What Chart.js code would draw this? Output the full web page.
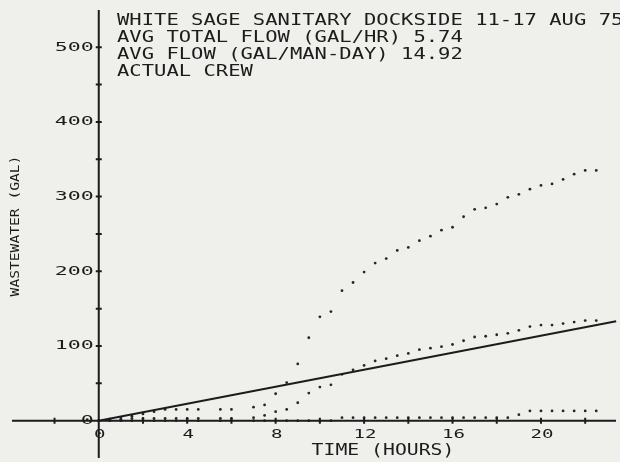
<!DOCTYPE html>
<html>
<head>
<meta charset="utf-8">
<script src="https://cdn.jsdelivr.net/npm/chart.js@4.4.1/dist/chart.umd.min.js"></script>
<style>
  html, body { margin: 0; padding: 0; background: #efefec; }
</style>
</head>
<body>
<canvas id="chart" width="620" height="462"></canvas>
<script>
// sample times, every half hour
const hours = [
  0, 0.5, 1, 1.5, 2, 2.5, 3, 3.5, 4, 4.5, 5, 5.5, 6, 6.5, 7, 7.5,
  8, 8.5, 9, 9.5, 10, 10.5, 11, 11.5, 12, 12.5, 13, 13.5, 14, 14.5, 15, 15.5,
  16, 16.5, 17, 17.5, 18, 18.5, 19, 19.5, 20, 20.5, 21, 21.5, 22, 22.5
]

// cumulative wastewater (gal)
const upperGal = [
  0, 2, 4, 6, 9, 12, 15, 15, 15, 15, null, 15, 15, null, 18, 21,
  36, 51, 76, 111, 139, 146, 174, 185, 199, 211, 217, 228, 232, 241, 247, 255,
  259, 273, 283, 285, 290, 299, 303, 310, 315, 317, 323, 330, 335, 335
]
const middleGal = [
  0, 1, 2, 3, 3, 3, 3, 3, 3, 3, null, 3, 3, null, 4, 7,
  12, 15, 24, 37, 45, 48, 62, 68, 74, 80, 83, 87, 90, 95, 97, 99,
  102, 107, 112, 113, 115, 117, 121, 126, 128, 128, 130, 132, 134, 134
]
const lowerGal = [
  0, 0, 0, 0, 0, 0, 0, 0, 0, 0, null, 0, 0, null, 0, 0,
  0, 0, 0, 0, 0, 0, 4, 4, 4, 4, 4, 4, 4, 4, 4, 4,
  4, 4, 4, 4, 4, 4, 8, 13, 13, 13, 13, 13, 13, 13
]

// average flow line (5.74 gal/hr)
const avgHours = [0, 23.4]
const avgGal = [0, 133]

const xTickValues = [-2, 0, 2, 4, 6, 8, 10, 12, 14, 16, 18, 20, 22]
const xLabelValues = [0, 4, 8, 12, 16, 20]
const xLabels = ['0', '4', '8', '12', '16', '20']
const yTickValues = [50, 100, 150, 200, 250, 300, 350, 400, 450, 500]
const yLabelValues = [0, 100, 200, 300, 400, 500]
const yLabels = ['0', '100', '200', '300', '400', '500']

const header = [
  'WHITE SAGE SANITARY DOCKSIDE 11-17 AUG 75',
  'AVG TOTAL FLOW (GAL/HR) 5.74',
  'AVG FLOW (GAL/MAN-DAY) 14.92',
  'ACTUAL CREW'
]

const ink = '#1c1c1c'
const paper = '#efefec'

const toPoints = (xs, ys) => xs.map((x, i) => ({ x, y: ys[i] })).filter(p => p.y !== null)

// draws plotter-like wide monospace text
function plotText(ctx, text, x, y, size, advance, align, rotate) {
  ctx.save()
  ctx.font = size + 'px "DejaVu Sans Mono"'
  const sx = advance / ctx.measureText('M').width
  ctx.translate(x, y)
  if (rotate) ctx.rotate(-Math.PI / 2)
  ctx.scale(sx, 1)
  ctx.fillStyle = ink
  ctx.textAlign = align
  ctx.textBaseline = 'middle'
  ctx.fillText(text, 0, 0)
  ctx.restore()
}

const plotterAxes = {
  id: 'plotterAxes',
  beforeDraw(chart) {
    const { ctx, width, height } = chart
    ctx.save()
    ctx.fillStyle = paper
    ctx.fillRect(0, 0, width, height)
    ctx.restore()
  },
  afterDatasetsDraw(chart) {
    const { ctx, chartArea, scales: { x, y } } = chart
    const x0 = x.getPixelForValue(0)
    const y0 = y.getPixelForValue(0)

    ctx.save()
    ctx.strokeStyle = ink
    ctx.lineWidth = 2
    ctx.beginPath()
    ctx.moveTo(chartArea.left + 8, y0)
    ctx.lineTo(chartArea.right, y0)
    ctx.moveTo(x0, chartArea.top + 6)
    ctx.lineTo(x0, chartArea.bottom)
    xTickValues.forEach(v => {
      const px = x.getPixelForValue(v)
      ctx.moveTo(px, y0 - 3)
      ctx.lineTo(px, y0 + 3)
    })
    yTickValues.forEach(v => {
      const py = y.getPixelForValue(v)
      ctx.moveTo(x0 - 3, py)
      ctx.lineTo(x0 + 3, py)
    })
    ctx.stroke()
    ctx.restore()

    xLabelValues.forEach((v, i) => {
      plotText(ctx, xLabels[i], x.getPixelForValue(v) + 1, y0 + 14, 13, 11.5, 'center')
    })
    yLabelValues.forEach((v, i) => {
      plotText(ctx, yLabels[i], x0 - 5, y.getPixelForValue(v), 13, 13, 'right')
    })

    header.forEach((line, i) => {
      plotText(ctx, line, 117, 21 + i * 17, 16, 12.35, 'left')
    })
    plotText(ctx, 'TIME (HOURS)', 383, 451, 15, 11.9, 'center')
    plotText(ctx, 'WASTEWATER (GAL)', 16, 226, 12, 8.8, 'center', true)
  }
}

const dotStyle = {
  showLine: false,
  pointRadius: 1.4,
  pointBackgroundColor: '#262626',
  pointBorderWidth: 0
}

new Chart(document.getElementById('chart'), {
  type: 'scatter',
  data: {
    datasets: [
      { label: 'Average flow', data: toPoints(avgHours, avgGal), showLine: true,
        borderColor: ink, borderWidth: 2, pointRadius: 0 },
      { label: 'Upper', data: toPoints(hours, upperGal), ...dotStyle },
      { label: 'Middle', data: toPoints(hours, middleGal), ...dotStyle },
      { label: 'Lower', data: toPoints(hours, lowerGal), ...dotStyle }
    ]
  },
  options: {
    responsive: false,
    animation: false,
    clip: false,
    layout: { padding: 0 },
    plugins: {
      legend: { display: false },
      tooltip: { enabled: false }
    },
    scales: {
      x: { type: 'linear', display: false, min: -4.2857, max: 23.393 },
      y: { type: 'linear', display: false, min: -50, max: 557.9 }
    }
  },
  plugins: [plotterAxes]
})
</script>
</body>
</html>
